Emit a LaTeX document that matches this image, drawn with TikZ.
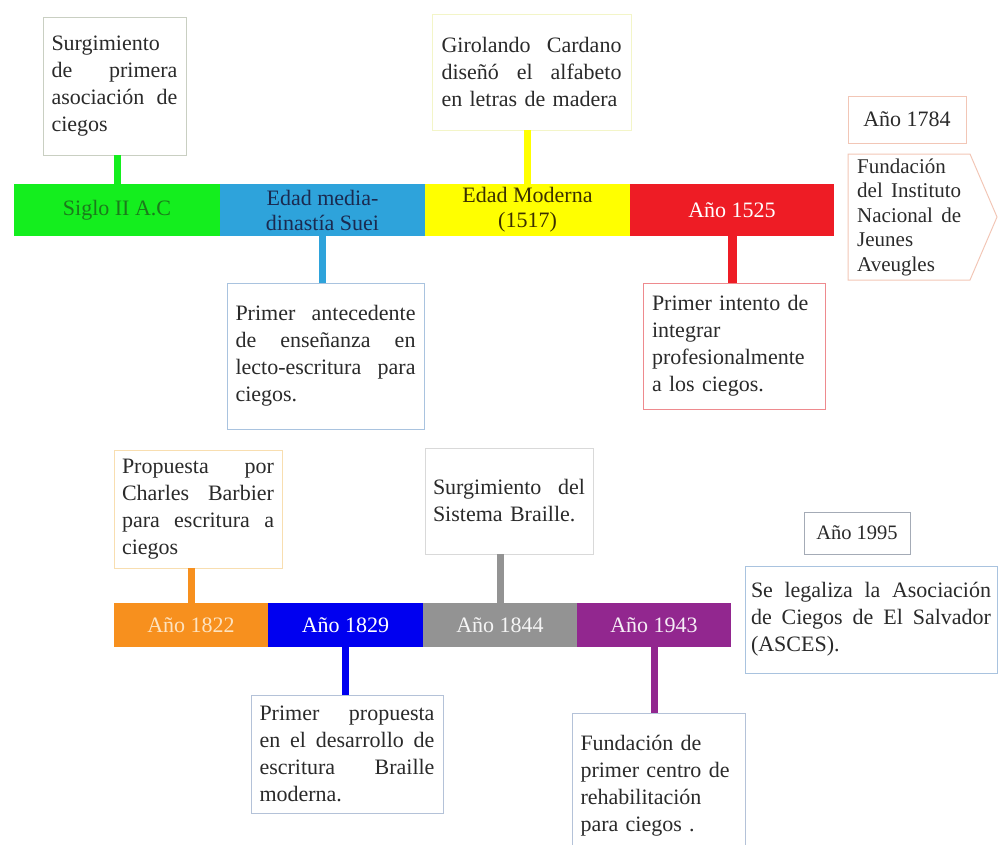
\documentclass[tikz,border=0pt]{standalone}
\usepackage{fontspec}
\setmainfont{Liberation Serif}
\definecolor{cGreen}{HTML}{14EE1E}
\definecolor{cGreenT}{HTML}{1B7A1B}
\definecolor{cBlue}{HTML}{2EA3DB}
\definecolor{cBlueT}{HTML}{1A2A50}
\definecolor{cYellow}{HTML}{FFFF00}
\definecolor{cYellowT}{HTML}{3B3000}
\definecolor{cRed}{HTML}{EE1C25}
\definecolor{cOrange}{HTML}{F7901E}
\definecolor{cOrangeT}{HTML}{FDE3C0}
\definecolor{cBlueB}{HTML}{0000F0}
\definecolor{cGray}{HTML}{939393}
\definecolor{cPurple}{HTML}{92278F}
\definecolor{txt}{HTML}{2A2A2A}
\definecolor{bdGreen}{HTML}{C9CFC2}
\definecolor{bdYellow}{HTML}{F3F5C8}
\definecolor{bdBlue}{HTML}{A9C3DF}
\definecolor{bdRed}{HTML}{EE8A8E}
\definecolor{bdSalmon}{HTML}{F2C6B6}
\definecolor{bdOrange}{HTML}{F8DEB0}
\definecolor{bdGray}{HTML}{D9D9D9}
\definecolor{bdBlueGray}{HTML}{B4C2D8}
\definecolor{bdDark}{HTML}{A4ABB6}
\newcommand\boxfont{\fontsize{22}{27}\selectfont}
\newcommand\segfont{\fontsize{22}{25}\selectfont}
\tikzset{
  seg/.style={inner sep=0pt, outer sep=0pt, align=center, font=\segfont},
  topseg/.style={seg, minimum height=52pt},
  botseg/.style={seg, minimum height=44pt},
  infobox/.style={draw, line width=1pt, fill=white, inner sep=0pt, outer sep=0pt, align=left, text=txt, font=\boxfont},
  conn/.style={line width=7pt},
}
\begin{document}
\begin{tikzpicture}[x=1pt,y=-1pt]
\useasboundingbox (0,0) rectangle (999,844);
\clip (0,0) rectangle (999,844);
% top bar
\node[topseg, fill=cGreen, text=cGreenT, minimum width=206pt] (s1) at (117,210) {Siglo II A.C};
\node[topseg, fill=cBlue, text=cBlueT, minimum width=205pt] (s2) at (322.5,210) {Edad media-\\dinastía Suei};
\node[topseg, fill=cYellow, text=cYellowT, minimum width=205pt] (s3) at (527.5,210) {Edad Moderna\\(1517)};
\node[topseg, fill=cRed, text=white, minimum width=204pt] (s4) at (732,210) {Año 1525};
% bottom bar
\node[botseg, fill=cOrange, text=cOrangeT, minimum width=154pt] (t1) at (191,625) {Año 1822};
\node[botseg, fill=cBlueB, text=white, minimum width=155pt] (t2) at (345.5,625) {Año 1829};
\node[botseg, fill=cGray, text=white!92!gray, minimum width=154pt] (t3) at (500,625) {Año 1844};
\node[botseg, fill=cPurple, text=white!92!cPurple, minimum width=154pt] (t4) at (654,625) {Año 1943};
% boxes top
\node[infobox, draw=bdGreen, minimum width=143pt, minimum height=138pt, text width=126pt] (b1) at (114.5,86)
 {Surgimiento\\de\hfill primera\\asociación\hfill de\\ciegos};
\node[infobox, draw=bdYellow, minimum width=199pt, minimum height=116pt, text width=180pt] (b2) at (531.5,72)
 {Girolando\hfill Cardano\\diseñó\hfill el\hfill alfabeto\\en letras de madera};
\node[infobox, draw=bdBlue, minimum width=197pt, minimum height=146pt, text width=180pt] (b3) at (325.5,356)
 {Primer\hfill antecedente\\de\hfill enseñanza\hfill en\\lecto-escritura\hfill para\\ciegos.};
\node[infobox, draw=bdRed, minimum width=182pt, minimum height=126pt, text width=164pt] (b4) at (734,346)
 {Primer intento de\\integrar\\profesionalmente\\a los ciegos.};
\node[infobox, draw=bdSalmon, minimum width=118pt, minimum height=47pt, align=center, font=\fontsize{22}{26}\selectfont] (y1) at (907,119.5) {Año 1784};
\node[inner sep=0pt, anchor=west, text width=104pt, align=left, text=txt, font=\fontsize{21}{24.5}\selectfont] (p1) at (857,217)
 {Fundación\\del\hfill Instituto\\Nacional\hfill de\\Jeunes\\Aveugles};
\coordinate (pa) at (848,154);
\coordinate (pb) at (970,154);
\coordinate (pc) at (997,217);
\coordinate (pd) at (970,280);
\coordinate (pe) at (848,280);
\draw[line width=1pt, draw=bdSalmon] (pa) -- (pb) -- (pc) -- (pd) -- (pe) -- cycle;
% boxes bottom
\node[infobox, draw=bdOrange, minimum width=168pt, minimum height=118pt, text width=152pt] (b5) at (198,509)
 {Propuesta\hfill por\\Charles\hfill Barbier\\para\hfill escritura\hfill a\\ciegos};
\node[infobox, draw=bdGray, minimum width=168pt, minimum height=106pt, text width=152pt] (b6) at (509,501)
 {Surgimiento\hfill del\\Sistema Braille.};
\node[infobox, draw=bdBlueGray, minimum width=192pt, minimum height=118pt, text width=175pt] (b7) at (347,754)
 {Primer\hfill propuesta\\en\hfill el\hfill desarrollo\hfill de\\escritura\hfill Braille\\moderna.};
\node[infobox, draw=bdBlueGray, minimum width=173pt, minimum height=146pt, text width=156pt] (b8) at (658.5,786)
 {Fundación de\\primer centro de\\rehabilitación\\para ciegos .};
\node[infobox, draw=bdDark, minimum width=106pt, minimum height=42pt, align=center, font=\fontsize{20.5}{24}\selectfont] (y2) at (857,533) {Año 1995};
\node[infobox, draw=bdBlue, minimum width=252pt, minimum height=107pt, text width=240pt] (b9) at (871,619.5)
 {Se\hfill legaliza\hfill la\hfill Asociación\\de\hfill Ciegos\hfill de\hfill El\hfill Salvador\\(ASCES).};
% connectors
\draw[conn, draw=cGreen] (s1.north) -- (s1.north |- b1.south);
\draw[conn, draw=cYellow] (s3.north) -- (s3.north |- b2.south);
\draw[conn, draw=cBlue] (s2.south) -- (s2.south |- b3.north);
\draw[conn, draw=cRed, line width=9pt] (s4.south) -- (s4.south |- b4.north);
\draw[conn, draw=cOrange] (t1.north) -- (t1.north |- b5.south);
\draw[conn, draw=cGray] (t3.north) -- (t3.north |- b6.south);
\draw[conn, draw=cBlueB] (t2.south) -- (t2.south |- b7.north);
\draw[conn, draw=cPurple] (t4.south) -- (t4.south |- b8.north);
\end{tikzpicture}
\end{document}
